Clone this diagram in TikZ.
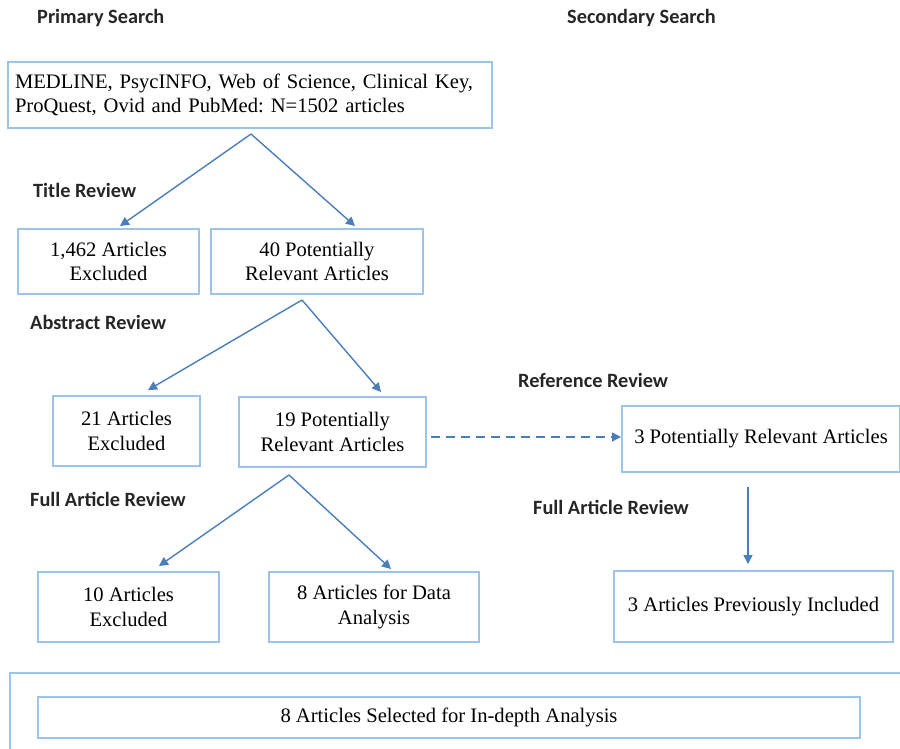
\documentclass[tikz,border=0pt]{standalone}
\usepackage{fontspec}
\setmainfont{Liberation Serif}
\newfontfamily\hdfont{Carlito}
\usetikzlibrary{arrows.meta}
\definecolor{boxblue}{HTML}{9DC3E6}
\definecolor{arrblue}{HTML}{4A7EBB}
\definecolor{hdcol}{HTML}{262626}
\frenchspacing
\tikzset{
  boxnode/.style={draw=boxblue, line width=1.3pt, rectangle, inner sep=4pt,
    font=\fontsize{20.6}{24.5}\selectfont, align=center},
  hdlabel/.style={font=\hdfont\bfseries\fontsize{20.3}{22}\selectfont, text=hdcol, anchor=west, inner sep=0pt},
  flow/.style={draw=arrblue, line width=1.4pt, -{Triangle[length=9pt,width=9pt]}},
  dflow/.style={flow, dash pattern=on 9pt off 6pt}
}
\begin{document}
\begin{tikzpicture}[x=1pt,y=-1pt]
\useasboundingbox (0,0) rectangle (900,748);
% headings
\node[hdlabel] (hps) at (37,18) {Primary Search};
\node[hdlabel] (hss) at (567,18) {Secondary Search};
\node[hdlabel] (htr) at (33,190) {Title Review};
\node[hdlabel] (har) at (30,322) {Abstract Review};
\node[hdlabel] (hrr) at (518,380) {Reference Review};
\node[hdlabel] (hfl) at (30,499) {Full Article Review};
\node[hdlabel] (hfr) at (533,507) {Full Article Review};
% boxes
\node[boxnode, minimum width=484pt, minimum height=66pt, text width=470pt, align=left] (b0) at (250,95)
  {MEDLINE, PsycINFO, Web of Science, Clinical Key,\\ProQuest, Ovid and PubMed: N=1502 articles};
\node[boxnode, minimum width=181pt, minimum height=65pt] (b1) at (108.5,261.5) {1,462 Articles\\Excluded};
\node[boxnode, minimum width=212pt, minimum height=65pt] (b2) at (317,261.5) {40 Potentially\\Relevant Articles};
\node[boxnode, minimum width=147pt, minimum height=70pt] (b3) at (126.5,431) {21 Articles\\Excluded};
\node[boxnode, minimum width=187pt, minimum height=70pt] (b4) at (332.5,432) {19 Potentially\\Relevant Articles};
\node[boxnode, minimum width=278pt, minimum height=66pt] (b5) at (761,439) {3 Potentially Relevant Articles};
\node[boxnode, minimum width=181pt, minimum height=70pt] (b6) at (128.5,607) {10 Articles\\Excluded};
\node[boxnode, minimum width=210pt, minimum height=70pt] (b7) at (374,607) {8 Articles for Data\\Analysis};
\node[boxnode, minimum width=279pt, minimum height=71pt] (b8) at (753.5,606.5) {3 Articles Previously Included};
\node[boxnode, minimum width=822pt, minimum height=41pt] (b9) at (449,717.5) {8 Articles Selected for In-depth Analysis};
% outer frame at bottom
\draw[boxblue, line width=2.5pt] (10,752) -- (10,673) -- (904,673);
% connector anchor points
\coordinate (a0) at (251,134);
\coordinate (t1) at (120,226);
\coordinate (t2) at (355,226);
\coordinate (a1) at (302,300);
\coordinate (t3) at (148,390);
\coordinate (t4) at (381,392);
\coordinate (a2) at (289,475);
\coordinate (t6) at (159,566);
\coordinate (t7) at (391,569);
\coordinate (t5) at (621,437);
\coordinate (s5) at (431,437);
\coordinate (v0) at (748,487);
\coordinate (v1) at (748,564);
% arrows
\draw[flow] (a0) -- (t1);
\draw[flow] (a0) -- (t2);
\draw[flow] (a1) -- (t3);
\draw[flow] (a1) -- (t4);
\draw[flow] (a2) -- (t6);
\draw[flow] (a2) -- (t7);
\draw[dflow] (s5) -- (t5);
\draw[flow] (v0) -- (v1);
\end{tikzpicture}
\end{document}
